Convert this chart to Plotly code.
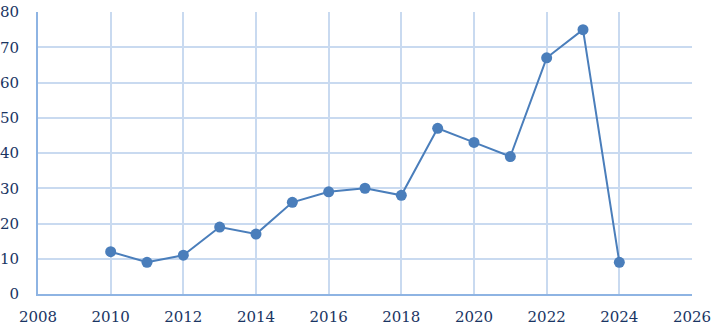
import plotly.graph_objects as go

years = [2010, 2011, 2012, 2013, 2014, 2015, 2016, 2017, 2018, 2019, 2020, 2021, 2022, 2023, 2024]
values = [12, 9, 11, 19, 17, 26, 29, 30, 28, 47, 43, 39, 67, 75, 9]
x_ticks = list(range(2008, 2027, 2))
y_ticks = list(range(0, 81, 10))

fig = go.Figure(go.Scatter(
    x=years, y=values, mode="lines+markers",
    line=dict(color="#4a7ebb", width=2),
    marker=dict(color="#4a7ebb", size=11),
))

font = dict(family="DejaVu Serif", size=15, color="#1a3563")
fig.update_layout(
    width=718, height=328,
    margin=dict(l=38, r=26, t=12, b=34),
    plot_bgcolor="white", paper_bgcolor="white",
    showlegend=False,
    font=font,
)
fig.update_xaxes(
    range=[2008, 2026], tickvals=x_ticks, ticktext=[str(t) for t in x_ticks],
    showgrid=True, gridcolor="#c9daf0", gridwidth=2,
    showline=True, linecolor="#8eb4e3", linewidth=2,
    zeroline=False, ticks="", tickfont=font,
    ticklabelstandoff=8, automargin=False,
)
fig.update_yaxes(
    range=[0, 80], tickvals=y_ticks,
    showgrid=True, gridcolor="#c9daf0", gridwidth=2,
    showline=True, linecolor="#8eb4e3", linewidth=2,
    zeroline=False, ticks="", tickfont=font,
    ticklabelstandoff=14, automargin=False,
)
fig.write_html("out.html")
